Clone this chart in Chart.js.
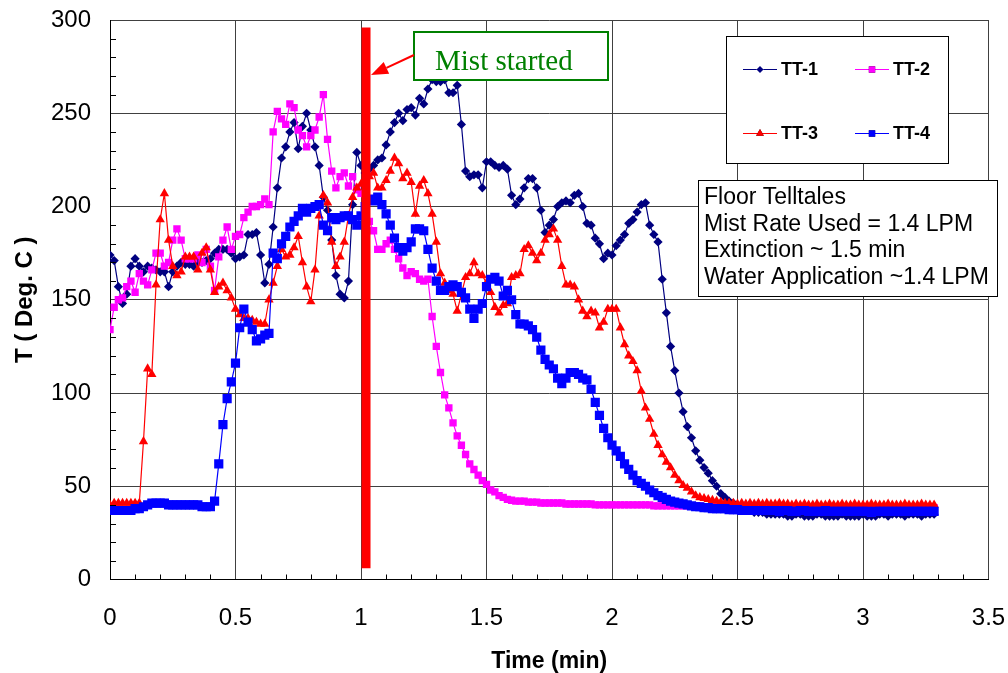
<!DOCTYPE html>
<html><head><meta charset="utf-8">
<script src="https://cdn.jsdelivr.net/npm/chart.js@4.4.1/dist/chart.umd.min.js"></script>
<style>html,body{margin:0;padding:0;background:#fff}canvas{display:block}</style>
</head><body>
<canvas id="c" width="1008" height="673"></canvas>
<script>
// ---- data (one sample per second, time in minutes) ----
const SAMPLE_INTERVAL_MIN = 1 / 60;
const seriesNames = ['TT-1', 'TT-2', 'TT-3', 'TT-4'];
const tt1 = [174,171,157,148,153,168,172,168,165,168,
 167,166,165,165,157,165,168,170,169,169,
 168,170,170,171,172,175,177,177,177,175,
 172,173,174,185,185,186,174,159,169,189,
 210,226,232,240,245,231,243,250,241,232,
 222,205,198,182,163,153,151,160,201,229,
 222,218,220,222,225,226,233,240,245,250,
 246,252,253,249,258,255,263,268,267,267,
 268,261,261,265,244,219,216,217,217,210,
 224,224,222,221,222,220,206,201,204,210,
 215,215,210,198,186,190,193,200,202,203,
 202,206,207,200,191,190,183,180,172,175,
 174,179,182,185,191,193,197,201,202,190,
 185,181,161,143,125,112,100,90,82,76,
 69,64,60,57,53,50,46,44,42,41,
 39,38,37,37,36,36,36,35,35,35,
 35,35,34,34,35,35,34,34,34,35,
 35,34,34,34,34,35,34,34,34,34,
 35,34,34,34,35,35,34,35,35,35,
 34,35,35,35,34,35,35,35];
const tt2 = [134,146,150,151,157,160,154,164,160,158,
 166,175,175,168,170,182,188,182,172,172,
 172,174,170,177,168,155,173,182,189,177,
 184,185,194,197,200,200,201,204,201,240,
 251,247,244,255,253,241,238,232,238,241,
 248,260,236,219,210,216,218,211,216,209,
 207,200,192,187,177,177,180,182,177,172,
 167,163,165,164,161,160,161,141,125,111,
 99,92,84,77,72,67,62,59,56,53,
 51,48,47,45,44,43,42.5,42,42,42,
 41.5,41.5,41.5,41,41,41,41,41,41,40.5,
 40.5,40.5,40.5,40.5,40.5,40.5,40,40,40,40,
 40,40,40,40,40,40,40,40,40,40,
 39.5,39.5,39.5,39.5,39.5,39.5,39.5,39.5,39.5,39.5,
 39.5,39.5,39,39,39,39,39,39,39,39,
 39,39,39,39,39,39,39,39,39,39,
 38.5,38.5,38.5,38.5,38.5,38.5,38.5,38.5,38.5,38.5,
 38.5,38.5,38.5,38.5,38.5,38.5,38.5,38.5,38.5,38.5,
 38.5,38.5,38.5,38.5,38.5,38.5,38.5,38.5,38.5,38.5,
 38.5,38.5,38.5,38.5,38.5,38.5,38.5,38.5];
const tt3 = [40,41,41,41,41,41,41,41,74,113,
 110,158,193,207,182,168,163,165,173,173,
 173,166,175,178,166,154,157,159,155,151,
 145,142,140,140,139,138,137,137,150,159,
 168,177,173,174,178,184,170,157,149,166,
 195,206,202,181,168,173,181,195,205,210,
 212,215,216,218,210,210,214,219,226,223,
 215,218,213,196,211,214,207,196,181,164,
 159,155,153,144,153,162,164,170,164,163,
 159,154,146,143,147,148,162,163,164,177,
 179,175,171,175,182,185,188,182,168,158,
 158,157,150,144,141,144,143,135,138,145,
 145,145,135,126,120,117,112,101,92,86,
 78,72,67,63,60,56,53,50.5,49,47,
 45,44,43.5,43,42.5,42,41.5,41,41,41,
 40.5,41,40.5,41,40.5,41,40.5,41,40.5,40.5,
 41,40.5,40.5,40,40.5,40,40.5,40,40,40.5,
 40,40,40.5,40,40,40.5,40,40,40.5,40,
 40,40,40.5,40,40,40,40.5,40,40,40,
 40.5,40,40,40,40.5,40,40,40];
const tt4 = [37,37,37,37,37,37,38,38,39,40,
 41,41,41,41,40,40,40,40,40,40,
 40,40,39,39,39,42,62,83,97,106,
 116,135,145,138,134,128,129,131,132,175,
 172,180,184,189,192,195,199,197,199,200,
 201,190,187,194,193,194,195,195,193,190,
 195,200,204,203,205,201,196,190,183,178,
 176,178,181,188,188,187,177,167,160,155,
 155,157,158,157,154,151,145,140,145,148,
 157,161,162,160,152,155,150,142,137,137,
 136,134,130,123,118,115,113,108,105,108,
 111,111,110,108,107,102,95,88,81,76,
 72,69,66,62,59,56,53,51.5,50,48,
 46.5,45,44,43,42,41.5,41,40.5,40,39.5,
 39,39,38.5,38.5,38,38,38,38,37.5,37.5,
 37.5,37,37,37,37,37,37,37,37,37,
 36.5,37,37,36.5,36.5,37,37,36.5,36.5,36.5,
 36.5,37,36.5,36.5,36.5,36.5,36.5,36.5,36.5,36.5,
 36.5,36.5,36,36.5,36.5,36.5,36.5,36.5,36.5,36.5,
 36.5,36.5,36.5,36.5,36.5,36.5,36.5,36.5];
const xTickValues = [0, 0.5, 1, 1.5, 2, 2.5, 3, 3.5];
const yTickValues = [0, 50, 100, 150, 200, 250, 300];
const mistStartMin = 1.02;
const mistBarRange = [6, 296];
const mistLabel = 'Mist started';
const noteLines = ['Floor Telltales', 'Mist Rate Used = 1.4 LPM', 'Extinction ~ 1.5 min', 'Water Application ~1.4 LPM'];
const xTitle = 'Time (min)';
const yTitle = 'T ( Deg. C )';

// ---- styling ----
const SANS = "'Liberation Sans', Arial, Helvetica, sans-serif";
const SERIF = "'Liberation Serif', 'Times New Roman', serif";
const seriesStyle = [
  {color: '#000080', pointStyle: 'rectRot', radius: 4.6, order: 4},
  {color: '#FF00FF', pointStyle: 'rect', radius: 5.2, order: 3},
  {color: '#FF0000', pointStyle: 'triangle', radius: 5.4, order: 2},
  {color: '#0000FF', pointStyle: 'rect', radius: 6.5, order: 1}
];
const seriesValues = [tt1, tt2, tt3, tt4];
const toXY = vals => vals.map((v, i) => ({x: i * SAMPLE_INTERVAL_MIN, y: v}));

const datasets = seriesValues.map((vals, k) => ({
  label: seriesNames[k],
  data: toXY(vals),
  borderColor: seriesStyle[k].color,
  backgroundColor: seriesStyle[k].color,
  pointBackgroundColor: seriesStyle[k].color,
  pointBorderWidth: 0,
  borderWidth: 1.2,
  pointStyle: seriesStyle[k].pointStyle,
  pointRadius: seriesStyle[k].radius,
  tension: 0,
  order: seriesStyle[k].order
}));
datasets.push({
  label: 'mist',
  data: [{x: mistStartMin, y: mistBarRange[0]}, {x: mistStartMin, y: mistBarRange[1]}],
  borderColor: '#FF0000',
  borderWidth: 9,
  borderCapStyle: 'butt',
  pointRadius: 0,
  order: 0
});

const minorTicks = {
  id: 'minorTicks',
  afterDraw(chart) {
    const {ctx, chartArea: a, scales: {x, y}} = chart;
    ctx.save();
    ctx.strokeStyle = '#000';
    ctx.lineWidth = 1;
    ctx.beginPath();
    for (let k = 1; k < 35; k++) {
      if (k % 5 === 0) continue;
      const px = Math.round(x.getPixelForValue(k / 10)) + 0.5;
      ctx.moveTo(px, a.bottom);
      ctx.lineTo(px, a.bottom - 5);
    }
    for (let k = 1; k < 30; k++) {
      if (k % 5 === 0) continue;
      const py = Math.round(y.getPixelForValue(k * 10)) + 0.5;
      ctx.moveTo(a.left, py);
      ctx.lineTo(a.left + 6, py);
    }
    ctx.stroke();
    ctx.restore();
  }
};

const annotations = {
  id: 'annotations',
  afterDraw(chart) {
    const {ctx, scales: {x, y}} = chart;
    ctx.save();
    // Mist started box
    ctx.fillStyle = '#fff';
    ctx.fillRect(414, 32, 194, 48);
    ctx.strokeStyle = '#008000';
    ctx.lineWidth = 2;
    ctx.strokeRect(414, 32, 194, 48);
    ctx.fillStyle = '#008000';
    ctx.font = '29px ' + SERIF;
    ctx.textBaseline = 'alphabetic';
    ctx.textAlign = 'left';
    ctx.fillText(mistLabel, 435, 70);
    // Arrow to the bar
    const tipX = x.getPixelForValue(mistStartMin) + 5, tipY = 75;
    const sx = 414, sy = 55;
    const dx = tipX - sx, dy = tipY - sy, len = Math.hypot(dx, dy);
    const ux = dx / len, uy = dy / len;
    const bx = tipX - 17 * ux, by = tipY - 17 * uy;
    ctx.strokeStyle = '#FF0000';
    ctx.lineWidth = 2;
    ctx.beginPath(); ctx.moveTo(sx, sy); ctx.lineTo(bx, by); ctx.stroke();
    ctx.fillStyle = '#FF0000';
    ctx.beginPath();
    ctx.moveTo(tipX, tipY);
    ctx.lineTo(bx - 6.5 * uy, by + 6.5 * ux);
    ctx.lineTo(bx + 6.5 * uy, by - 6.5 * ux);
    ctx.closePath(); ctx.fill();

    // Legend box
    ctx.fillStyle = '#fff';
    ctx.fillRect(726.5, 36.5, 222, 127);
    ctx.strokeStyle = '#000';
    ctx.lineWidth = 1;
    ctx.strokeRect(726.5, 36.5, 222, 127);
    const cells = [[743, 69], [855, 69], [743, 133], [855, 133]];
    ctx.font = 'bold 18px ' + SANS;
    ctx.textBaseline = 'middle';
    seriesNames.forEach((name, k) => {
      const [lx, ly] = cells[k];
      const st = seriesStyle[k];
      ctx.strokeStyle = st.color; ctx.lineWidth = 1.2;
      ctx.beginPath(); ctx.moveTo(lx, ly + 0.5); ctx.lineTo(lx + 34, ly + 0.5); ctx.stroke();
      Chart.helpers.drawPoint(ctx, {pointStyle: st.pointStyle, radius: k === 0 ? 3.5 : 4.5, rotation: 0, borderWidth: 0}, lx + 17, ly + 0.5);
      ctx.fillStyle = st.color; ctx.fill();
      ctx.fillStyle = '#000';
      ctx.fillText(name, lx + 38, ly + 1);
    });

    // Notes box
    ctx.fillStyle = '#fff';
    ctx.fillRect(698.5, 180.5, 299, 116);
    ctx.strokeStyle = '#000';
    ctx.lineWidth = 1;
    ctx.strokeRect(698.5, 180.5, 299, 116);
    ctx.fillStyle = '#000';
    ctx.font = '23px ' + SANS;
    ctx.textBaseline = 'middle';
    noteLines.forEach((t, k) => ctx.fillText(t, 704, 198 + k * 26.4));
    ctx.restore();
  }
};

new Chart(document.getElementById('c'), {
  type: 'line',
  data: {datasets},
  options: {
    responsive: false,
    animation: false,
    devicePixelRatio: 1,
    events: [],
    layout: {padding: {top: 20, right: 19.5, left: 0, bottom: 0}},
    plugins: {legend: {display: false}, tooltip: {enabled: false}},
    scales: {
      x: {
        type: 'linear', min: 0, max: 3.5,
        afterBuildTicks: s => { s.ticks = xTickValues.map(v => ({value: v})); },
        afterFit: s => { s.height = 93.5; s.paddingLeft = 0; s.paddingRight = 0; },
        ticks: {font: {family: SANS, size: 24}, color: '#000', padding: 24, maxRotation: 0, autoSkip: false, callback: v => String(v)},
        grid: {color: '#404040', lineWidth: 1, drawTicks: false},
        border: {color: '#000', width: 1},
        title: {display: true, text: xTitle, color: '#000', font: {family: SANS, size: 23, weight: 'bold', lineHeight: 1}, padding: {top: 0, bottom: 0}}
      },
      y: {
        type: 'linear', min: 0, max: 300,
        afterBuildTicks: s => { s.ticks = yTickValues.map(v => ({value: v})); },
        afterFit: s => { s.width = 110; s.paddingTop = 0; s.paddingBottom = 0; },
        ticks: {font: {family: SANS, size: 24}, color: '#000', padding: 19, autoSkip: false, callback: v => String(v)},
        grid: {color: '#404040', lineWidth: 1, drawTicks: false},
        border: {color: '#000', width: 1},
        title: {display: true, text: yTitle, color: '#000', font: {family: SANS, size: 24, weight: 'bold', lineHeight: 1}, padding: {top: 13, bottom: 0}}
      }
    }
  },
  plugins: [minorTicks, annotations]
});
</script>
</body></html>
